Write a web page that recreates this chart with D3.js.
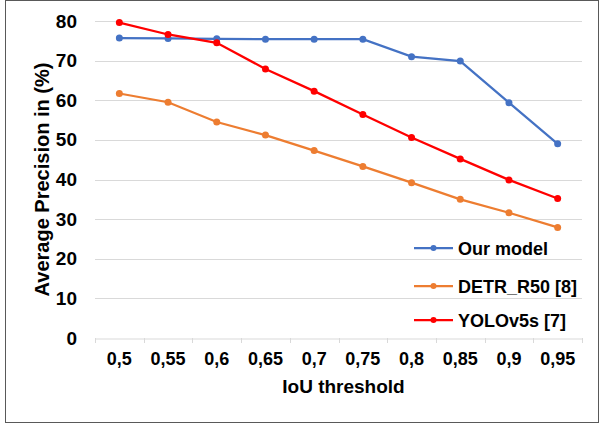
<!DOCTYPE html>
<html>
<head>
<script src="https://cdn.jsdelivr.net/npm/d3@7"></script>
<style>
  body { margin: 0; background: #fff; }
</style>
</head>
<body>
<script>
// chart data
var thresholds = ["0,5", "0,55", "0,6", "0,65", "0,7", "0,75", "0,8", "0,85", "0,9", "0,95"];
var ourModel = [75.7, 75.6, 75.5, 75.4, 75.4, 75.4, 71.0, 69.9, 59.4, 49.0];
var detr = [61.7, 59.5, 54.5, 51.2, 47.3, 43.3, 39.2, 35.0, 31.6, 27.9];
var yolo = [79.6, 76.6, 74.5, 67.9, 62.3, 56.4, 50.6, 45.2, 39.9, 35.2];
var seriesNames = ["Our model", "DETR_R50 [8]", "YOLOv5s [7]"];
var seriesColors = ["#4472C4", "#ED7D31", "#FF0000"];
var yTicks = [0, 10, 20, 30, 40, 50, 60, 70, 80];

var width = 606, height = 425;
var plotLeft = 95, plotRight = 582, plotTop = 21, plotBottom = 338;
var font = "'Liberation Sans', Arial, sans-serif";

var svg = d3.select("body").append("svg")
    .attr("width", width)
    .attr("height", height)
    .style("font-family", font)
    .style("font-weight", "bold");

// outer frame
svg.append("rect")
    .attr("x", 5.5).attr("y", 0.5)
    .attr("width", 593).attr("height", 422)
    .attr("fill", "none")
    .attr("stroke", "#595959")
    .attr("stroke-width", 1);

var x = d3.scaleBand().domain(thresholds).range([plotLeft, plotRight]);
var y = d3.scaleLinear().domain([0, 80]).range([plotBottom, plotTop]);

// gridlines
svg.selectAll(".grid").data(yTicks.filter(d => d > 0)).enter()
    .append("line")
    .attr("x1", plotLeft).attr("x2", plotRight)
    .attr("y1", d => Math.round(y(d)) + 0.5).attr("y2", d => Math.round(y(d)) + 0.5)
    .attr("stroke", "#d9d9d9").attr("stroke-width", 1);

// x axis
var xAxis = svg.append("g")
    .attr("transform", "translate(0," + (plotBottom + 0.5) + ")")
    .call(d3.axisBottom(x).tickSize(0).tickPadding(14));
xAxis.select(".domain").attr("stroke", "#d9d9d9");
xAxis.selectAll("text").attr("fill", "#000")
    .style("font-size", "18px").style("font-family", font).style("font-weight", "bold");
// category boundary ticks
svg.selectAll(".xt").data(d3.range(thresholds.length + 1)).enter()
    .append("line")
    .attr("x1", i => Math.round(plotLeft + i * x.step()) + 0.5)
    .attr("x2", i => Math.round(plotLeft + i * x.step()) + 0.5)
    .attr("y1", plotBottom).attr("y2", plotBottom + 5)
    .attr("stroke", "#d9d9d9");

// y axis labels
var yAxis = svg.append("g")
    .attr("transform", "translate(" + plotLeft + ",0)")
    .call(d3.axisLeft(y).tickValues(yTicks).tickSize(0).tickPadding(18));
yAxis.select(".domain").remove();
yAxis.selectAll("text").attr("fill", "#000")
    .style("font-size", "19px").style("font-family", font).style("font-weight", "bold");

// axis titles
svg.append("text")
    .attr("x", (plotLeft + plotRight) / 2 + 5).attr("y", 393)
    .attr("text-anchor", "middle")
    .style("font-size", "19px")
    .text("IoU threshold");

svg.append("text")
    .attr("transform", "translate(49," + ((plotTop + plotBottom) / 2) + ") rotate(-90)")
    .attr("text-anchor", "middle")
    .style("font-size", "20px")
    .text("Average Precision in (%)");

// lines
var allSeries = [ourModel, detr, yolo];
var line = d3.line()
    .x((d, i) => x(thresholds[i]) + x.bandwidth() / 2)
    .y(d => y(d));

allSeries.forEach(function (vals, s) {
    svg.append("path")
        .datum(vals)
        .attr("d", line)
        .attr("fill", "none")
        .attr("stroke", seriesColors[s])
        .attr("stroke-width", 2.25);
    svg.selectAll(".pt" + s).data(vals).enter()
        .append("circle")
        .attr("cx", (d, i) => x(thresholds[i]) + x.bandwidth() / 2)
        .attr("cy", d => y(d))
        .attr("r", 3.5)
        .attr("fill", seriesColors[s]);
});

// legend
var legendY = [248, 286, 320];
seriesNames.forEach(function (name, s) {
    var g = svg.append("g").attr("transform", "translate(414," + legendY[s] + ")");
    g.append("line").attr("x1", 0).attr("x2", 39).attr("y1", 0).attr("y2", 0)
        .attr("stroke", seriesColors[s]).attr("stroke-width", 2.25);
    g.append("circle").attr("cx", 19.5).attr("cy", 0).attr("r", 3).attr("fill", seriesColors[s]);
    g.append("text").attr("x", 44).attr("y", 6.5).style("font-size", "18px").text(name);
});
</script>
</body>
</html>
